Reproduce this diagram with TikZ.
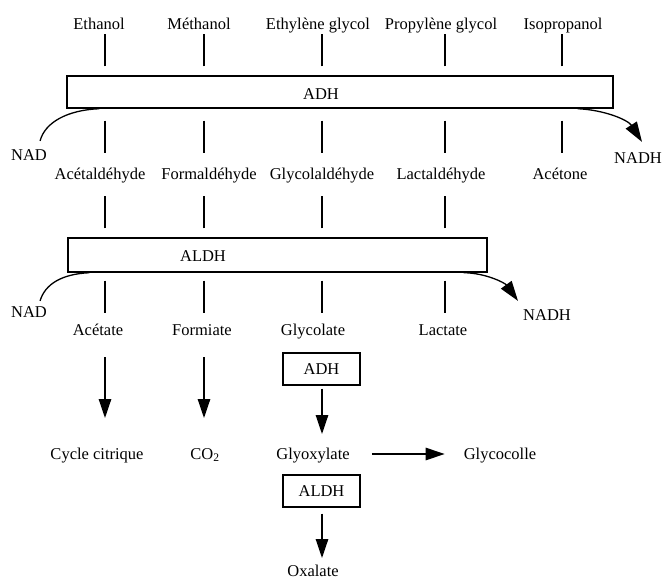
\documentclass[tikz,border=0pt]{standalone}
\usepackage{fontspec}
\setmainfont{Liberation Serif}
\usetikzlibrary{arrows.meta}
\begin{document}
\begin{tikzpicture}[x=1pt,y=-1pt,
  lbl/.style={font=\fontsize{16.5}{19}\selectfont, inner sep=0pt, anchor=base},
  bigbox/.style={draw, line width=1.4pt, inner sep=0pt},
  smallbox/.style={draw, line width=1.4pt, inner sep=0pt, minimum width=77pt, minimum height=32pt, font=\fontsize{16.5}{19}\selectfont},
  tick/.style={line width=1.3pt},
  arr/.style={line width=1.3pt, -{Triangle[length=19pt,width=12.5pt]}},
  curv/.style={line width=1.3pt},
  curvarr/.style={line width=1.3pt, -{Triangle[length=20pt,width=13pt]}}]
\useasboundingbox (0,0) rectangle (666,579);
% column coordinates
\coordinate (k1) at (105,0);
\coordinate (k2) at (204,0);
\coordinate (k3) at (322,0);
\coordinate (k4) at (445,0);
\coordinate (k5) at (562,0);
% top labels
\node[lbl] (eth) at (99,29) {Ethanol};
\node[lbl] (meth) at (199,29) {Méthanol};
\node[lbl] (ethg) at (318,29) {Ethylène glycol};
\node[lbl] (propg) at (441,29) {Propylène glycol};
\node[lbl] (isop) at (563,29) {Isopropanol};
% ADH box
\node[bigbox, minimum width=546pt, minimum height=32pt] (adh) at (340,92) {};
\node[lbl] (adht) at (321,99) {ADH};
% ticks above ADH
\foreach \k in {k1,k2,k3,k4,k5}
  \draw[tick] ([yshift=9pt]\k |- adh.north) -- ([yshift=41pt]\k |- adh.north);
% ticks below ADH
\foreach \k in {k1,k2,k3,k4,k5}
  \draw[tick] ([yshift=-12pt]\k |- adh.south) -- ([yshift=-44pt]\k |- adh.south);
% NAD / NADH 1
\node[lbl] (nad1) at (29,160) {NAD};
\node[lbl] (nadh1) at (638,163) {NADH};
\draw[curv] ([xshift=-7pt,yshift=8pt]nad1.north east) .. controls (45,122) and (68,110) .. ([xshift=33pt]adh.south west);
\draw[curvarr] ([xshift=-36pt]adh.south east) .. controls (605,110) and (628,120) .. ([xshift=4pt,yshift=10pt]nadh1.north);
% second row
\node[lbl] (acald) at (100,179) {Acétaldéhyde};
\node[lbl] (formald) at (209,179) {Formaldéhyde};
\node[lbl] (glyald) at (322,179) {Glycolaldéhyde};
\node[lbl] (lactald) at (441,179) {Lactaldéhyde};
\node[lbl] (acet) at (560,179) {Acétone};
% ALDH box
\node[bigbox, minimum width=419pt, minimum height=34pt] (aldh) at (277.5,255) {};
\node[lbl] (aldht) at (203,261) {ALDH};
\foreach \k in {k1,k2,k3,k4}
  \draw[tick] ([yshift=9pt]\k |- aldh.north) -- ([yshift=41pt]\k |- aldh.north);
\foreach \k in {k1,k2,k3,k4}
  \draw[tick] ([yshift=-8pt]\k |- aldh.south) -- ([yshift=-40pt]\k |- aldh.south);
% NAD / NADH 2
\node[lbl] (nad2) at (29,317) {NAD};
\node[lbl] (nadh2) at (547,320) {NADH};
\draw[curv] ([xshift=-7pt,yshift=5pt]nad2.north east) .. controls (45,284) and (62,274) .. ([xshift=22pt]aldh.south west);
\draw[curvarr] ([xshift=-24pt]aldh.south east) .. controls (486,273) and (505,283) .. ([xshift=-29pt,yshift=8pt]nadh2.north);
% third row
\node[lbl] (acetate) at (98,335) {Acétate};
\node[lbl] (formiate) at (202,335) {Formiate};
\node[lbl] (glycolate) at (313,335) {Glycolate};
\node[lbl] (lactate) at (443,335) {Lactate};
% fourth row
\node[lbl] (cyc) at (97,459) {Cycle citrique};
\node[lbl] (co2) at (205,459) {CO\textsubscript{2}};
\node[lbl] (glyox) at (313,459) {Glyoxylate};
\node[lbl] (glyco) at (500,459) {Glycocolle};
\node[lbl] (oxal) at (313,576) {Oxalate};
% small boxes
\node[smallbox] (sadh) at (321.5,369) {ADH};
\node[smallbox] (saldh) at (321.5,491) {ALDH};
% arrows
\draw[arr] ([yshift=-22pt]k1 |- acetate.base) -- ([yshift=41pt]k1 |- cyc.base);
\draw[arr] ([yshift=-22pt]k2 |- formiate.base) -- ([yshift=41pt]k2 |- co2.base);
\draw[arr] ([yshift=-3pt]k3 |- sadh.south) -- ([yshift=25pt]k3 |- glyox.base);
\draw[arr] ([xshift=22pt,yshift=5pt]glyox.base east) -- ([xshift=-19pt,yshift=5pt]glyco.base west);
\draw[arr] ([yshift=-6pt]k3 |- saldh.south) -- ([yshift=18pt]k3 |- oxal.base);
\end{tikzpicture}
\end{document}
